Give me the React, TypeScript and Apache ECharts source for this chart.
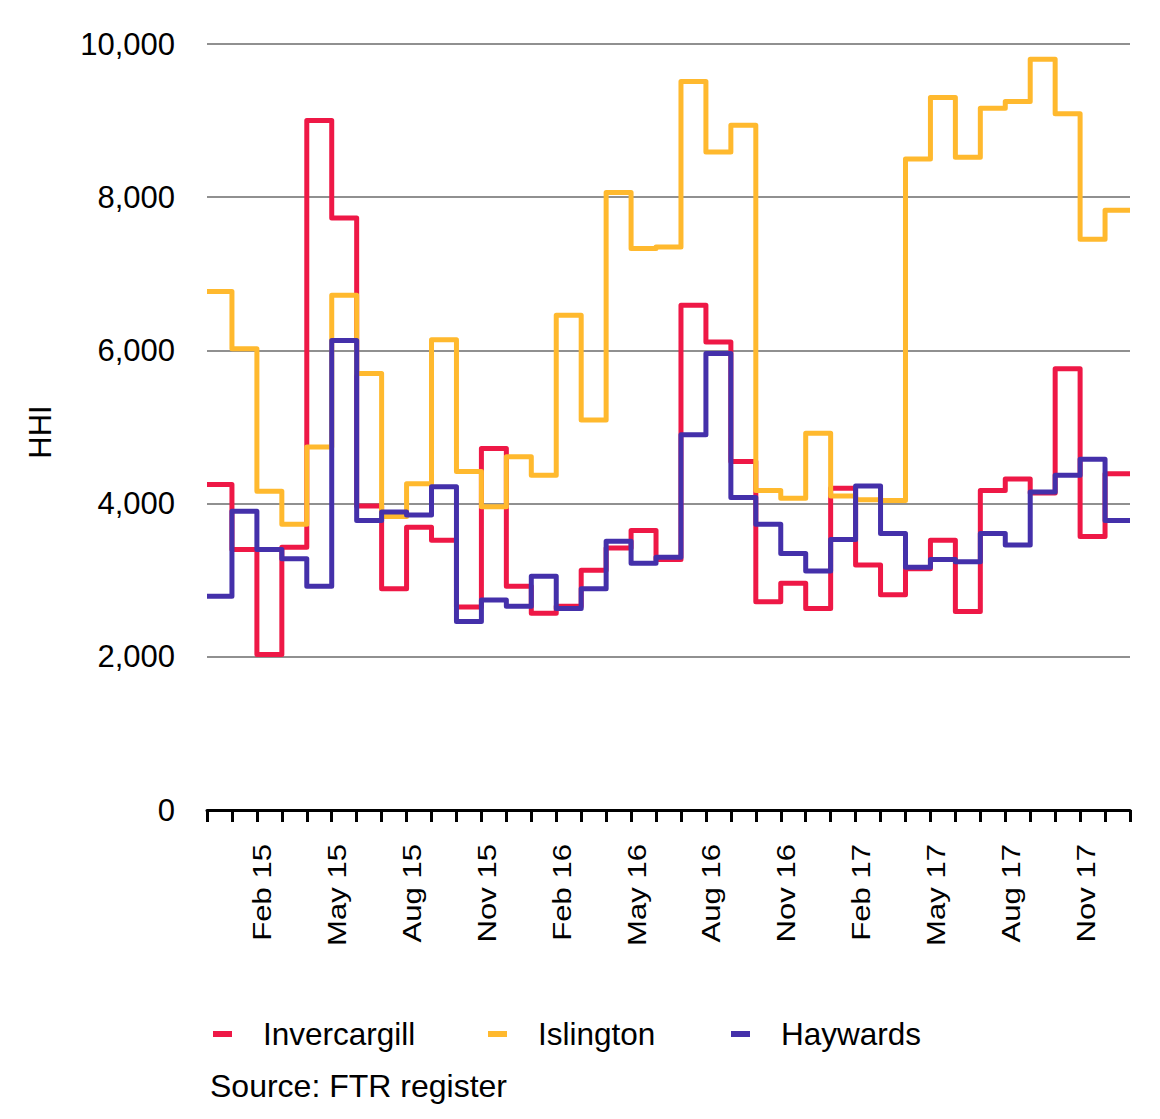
import React, { useEffect, useRef } from "react";
import * as echarts from "echarts";

const months = [
  "Dec 14", "Jan 15", "Feb 15", "Mar 15", "Apr 15", "May 15", "Jun 15", "Jul 15", "Aug 15", "Sep 15", "Oct 15", "Nov 15",
  "Dec 15", "Jan 16", "Feb 16", "Mar 16", "Apr 16", "May 16", "Jun 16", "Jul 16", "Aug 16", "Sep 16", "Oct 16", "Nov 16",
  "Dec 16", "Jan 17", "Feb 17", "Mar 17", "Apr 17", "May 17", "Jun 17", "Jul 17", "Aug 17", "Sep 17", "Oct 17", "Nov 17",
  "Dec 17",
];

const invercargill = [
  4250, 3400, 2030, 3430, 9000, 7730, 3970, 2890, 3690, 3520, 2650, 4720,
  2920, 2570, 2660, 3130, 3420, 3650, 3270, 6590, 6110, 4550, 2720, 2960,
  2630, 4200, 3200, 2810, 3150, 3520, 2590, 4170, 4320, 4140, 5760, 3570,
  4390,
];

const islington = [
  6770, 6020, 4160, 3730, 4740, 6720, 5700, 3830, 4260, 6140, 4420, 3960,
  4610, 4370, 6460, 5090, 8060, 7330, 7350, 9510, 8590, 8940, 4170, 4070,
  4920, 4100, 4050, 4040, 8500, 9300, 8520, 9160, 9250, 9800, 9090, 7450,
  7830,
];

const haywards = [
  2790, 3900, 3400, 3280, 2920, 6130, 3780, 3890, 3850, 4220, 2460, 2740,
  2660, 3050, 2630, 2890, 3510, 3220, 3300, 4900, 5960, 4080, 3730, 3350,
  3120, 3530, 4230, 3610, 3170, 3270, 3240, 3610, 3460, 4150, 4370, 4580,
  3780,
];

// tick labels shown on the month axis (every third month)
const xTickLabels = ["Feb 15", "May 15", "Aug 15", "Nov 15", "Feb 16", "May 16", "Aug 16", "Nov 16", "Feb 17", "May 17", "Aug 17", "Nov 17"];

const yTicks = [0, 2000, 4000, 6000, 8000, 10000];

const seriesNames = ["Invercargill", "Islington", "Haywards"];
const seriesColors = ["#EE1846", "#FFB92E", "#4430AA"];

const FONT = "'Liberation Sans', Arial, sans-serif";

function stepData(values: number[]) {
  const pts: [number, number][] = values.map((v, i) => [i, v]);
  pts.push([values.length, values[values.length - 1]]);
  return pts;
}

export default function App() {
  const ref = useRef<HTMLDivElement>(null);

  useEffect(() => {
    document.body.style.margin = "0";
    if (!ref.current) return;
    const chart = echarts.init(ref.current, null, { renderer: "svg" });
    const mkSeries = (name: string, values: number[], color: string) => ({
      name,
      type: "line",
      xAxisIndex: 1,
      yAxisIndex: 0,
      step: "end",
      symbol: "none",
      data: stepData(values),
      lineStyle: { color, width: 5, join: "round" },
      itemStyle: { color },
      emphasis: { disabled: true },
    });
    const legendLefts = [213, 488, 731];
    chart.setOption({
      animation: false,
      textStyle: { fontFamily: FONT },
      grid: { left: 207, right: 30, top: 44, bottom: 309, containLabel: false },
      xAxis: [
        {
          type: "category",
          data: months,
          boundaryGap: true,
          position: "bottom",
          axisLine: { show: true, lineStyle: { color: "#000", width: 3 } },
          axisTick: { show: true, interval: 0, length: 12, lineStyle: { color: "#000", width: 3 } },
          axisLabel: { show: false },
          splitLine: { show: false },
        },
        {
          type: "value",
          min: 0,
          max: months.length,
          show: false,
          splitLine: { show: false },
        },
      ],
      yAxis: {
        type: "value",
        min: yTicks[0],
        max: yTicks[yTicks.length - 1],
        interval: 2000,
        axisLine: { show: false },
        axisTick: { show: false },
        axisLabel: {
          fontSize: 31,
          color: "#000",
          margin: 32,
          fontFamily: FONT,
          formatter: (v: number) => v.toLocaleString("en-US"),
        },
        splitLine: { show: true, lineStyle: { color: "#6b6b6b", width: 1.5 } },
      },
      legend: seriesNames.map((name, i) => ({
        left: legendLefts[i],
        top: 1018,
        padding: 0,
        icon: "rect",
        itemWidth: 19,
        itemHeight: 6,
        selectedMode: false,
        textStyle: { fontSize: 31.5, color: "#000", fontFamily: FONT, padding: [0, 0, 0, 26] },
        data: [name],
      })),
      series: [
        mkSeries(seriesNames[0], invercargill, seriesColors[0]),
        mkSeries(seriesNames[1], islington, seriesColors[1]),
        mkSeries(seriesNames[2], haywards, seriesColors[2]),
      ],
    });

    const axisY = chart.convertToPixel({ yAxisIndex: 0 }, 0) as number;
    const labelGraphics = xTickLabels.map((lab) => {
      const cx = chart.convertToPixel({ xAxisIndex: 0 }, lab) as number;
      return {
        type: "text",
        x: cx - 7,
        y: axisY + 34,
        rotation: Math.PI / 2,
        scaleX: 1.22,
        silent: true,
        style: {
          text: lab,
          fontSize: 25.5,
          fontFamily: FONT,
          fill: "#000",
          textAlign: "right",
          textVerticalAlign: "middle",
        },
      };
    });

    chart.setOption({
      graphic: [
        {
          type: "text",
          x: 40,
          y: 432,
          rotation: Math.PI / 2,
          style: {
            text: "HHI",
            fontSize: 31,
            fontFamily: FONT,
            fill: "#000",
            textAlign: "center",
            textVerticalAlign: "middle",
          },
        },
        {
          type: "text",
          x: 210,
          y: 1086,
          style: {
            text: "Source: FTR register",
            fontSize: 32,
            fontFamily: FONT,
            fill: "#000",
            textAlign: "left",
            textVerticalAlign: "middle",
          },
        },
        ...labelGraphics,
      ],
    });
    return () => chart.dispose();
  }, []);

  return <div ref={ref} style={{ width: 1160, height: 1119 }} />;
}
